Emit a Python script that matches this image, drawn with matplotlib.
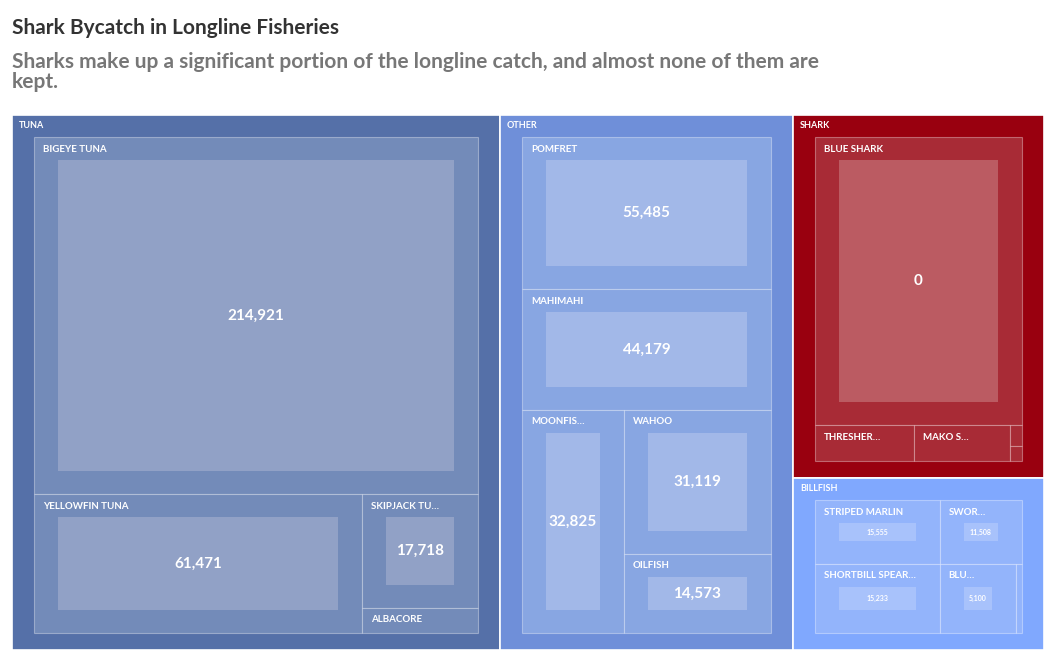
import matplotlib.pyplot as plt
from matplotlib.patches import Rectangle

plt.rcParams['font.family'] = ['Lato', 'DejaVu Sans']

# Data: caught (sets the tile size) and kept (label), per group
groups = ["TUNA", "OTHER", "SHARK", "BILLFISH"]
tuna_names = ["BIGEYE TUNA", "YELLOWFIN TUNA", "SKIPJACK TU…", "ALBACORE"]
tuna_caught = [281850, 81000, 23550, 5180]
tuna_kept = [214921, 61471, 17718, 3900]
other_names = ["POMFRET", "MAHIMAHI", "MOONFIS…", "WAHOO", "OILFISH"]
other_caught = [72060, 57360, 43230, 40350, 22140]
other_kept = [55485, 44179, 32825, 31119, 14573]
shark_names = ["BLUE SHARK", "THRESHER…", "MAKO S…", "", ""]
shark_caught = [121630, 7230, 6940, 500, 375]
shark_kept = [0, 0, 0, 0, 0]
bill_names = ["STRIPED MARLIN", "SHORTBILL SPEAR…", "SWOR…", "BLU…", ""]
bill_caught = [18750, 20235, 12400, 12400, 975]
bill_kept = [15555, 15233, 11508, 5100, 300]

# colours: group, leaf, inner (kept) box
colors = {
    "TUNA": ("#5570a8", "#738bb9", "#91a1c6"),
    "OTHER": ("#6f8fd9", "#88a6e2", "#a2b8e8"),
    "SHARK": ("#99000f", "#a82b36", "#bb5b62"),
    "BILLFISH": ("#80a8fe", "#93b4fb", "#a8c2fb"),
}

# split structure: ('h'|'v', [children]) with leaf indices
layouts = {
    "TUNA": ("v", [0, ("h", [1, ("v", [2, 3])])]),
    "OTHER": ("v", [0, 1, ("h", [2, ("v", [3, 4])])]),
    "SHARK": ("v", [0, ("h", [1, 2, ("v", [3, 4])])]),
    "BILLFISH": ("h", [("v", [0, 1]), ("v", [2, ("h", [3, 4])])]),
}
data = {
    "TUNA": (tuna_names, tuna_caught, tuna_kept),
    "OTHER": (other_names, other_caught, other_kept),
    "SHARK": (shark_names, shark_caught, shark_kept),
    "BILLFISH": (bill_names, bill_caught, bill_kept),
}


def total(node, vals):
    if isinstance(node, int):
        return vals[node]
    return sum(total(c, vals) for c in node[1])


def split(node, vals, x, y, w, h, out):
    if isinstance(node, int):
        out[node] = (x, y, w, h)
        return
    d, kids = node
    s = total(node, vals)
    pos = 0
    for c in kids:
        f = total(c, vals) / s
        if d == "h":
            split(c, vals, x + pos * w, y, f * w, h, out)
        else:
            split(c, vals, x, y + pos * h, w, f * h, out)
        pos += f


fig = plt.figure(figsize=(10.56, 6.5), dpi=100)
ax = fig.add_axes([0, 0, 1, 1])
ax.set_xlim(0, 1056)
ax.set_ylim(650, 0)
ax.axis("off")

X0, Y0, W, H = 12, 115, 1032, 535
sums = {g: sum(data[g][1]) for g in groups}
top = ("h", ["TUNA", "OTHER", ("v", ["SHARK", "BILLFISH"])])


def gsplit(node, x, y, w, h, out):
    if isinstance(node, str):
        out[node] = (x, y, w, h)
        return
    d, kids = node
    tot = lambda n: sums[n] if isinstance(n, str) else sum(tot(k) for k in n[1])
    s = tot(node)
    pos = 0
    for c in kids:
        f = tot(c) / s
        if d == "h":
            gsplit(c, x + pos * w, y, f * w, h, out)
        else:
            gsplit(c, x, y + pos * h, w, f * h, out)
        pos += f


grects = {}
gsplit(top, X0, Y0, W, H, grects)

PAD = 22
for g in groups:
    gc, lc, ic = colors[g]
    x, y, w, h = grects[g]
    ax.add_patch(Rectangle((x, y), w, h, facecolor=gc, edgecolor="white", lw=1.2))
    ax.text(x + 7, y + 10, g, color="white", fontsize=6.5, fontweight="bold", va="center")
    names, caught, kept = data[g]
    rects = {}
    split(layouts[g], caught, x + PAD, y + PAD, w - 2 * PAD, h - PAD - 17, rects)
    for i, name in enumerate(names):
        lx, ly, lw, lh = rects[i]
        ax.add_patch(Rectangle((lx, ly), lw, lh, facecolor=lc,
                               edgecolor=(1, 1, 1, 0.35), lw=0.8))
        if name and lw > 25:
            ax.text(lx + 9, ly + 12, name, color="white", fontsize=7,
                    fontweight="bold", va="center")
        iw, ih = lw - 48, lh - 46
        if iw > 4 and ih > 4:
            ax.add_patch(Rectangle((lx + 24, ly + 23), iw, ih, facecolor=ic, lw=0))
            cx, cy = lx + 24 + iw / 2, ly + 23 + ih / 2
            if ih > 30:
                ax.text(cx, cy, f"{kept[i]:,}", color="white", fontsize=11,
                        fontweight="bold", ha="center", va="center")
            elif ih > 10:
                ax.text(cx, cy, f"{kept[i]:,}", color="white", fontsize=5,
                        fontweight="bold", ha="center", va="center")

fig.text(12 / 1056, 1 - 28 / 650, "Shark Bycatch in Longline Fisheries",
         fontsize=15, fontweight="bold", color="#333333", va="center")
fig.text(12 / 1056, 1 - 72 / 650,
         "Sharks make up a significant portion of the longline catch, and almost none of them are\nkept.",
         fontsize=15, fontweight="bold", color="#777777", va="center", linespacing=1.05)

plt.savefig("out.png", dpi=100)
